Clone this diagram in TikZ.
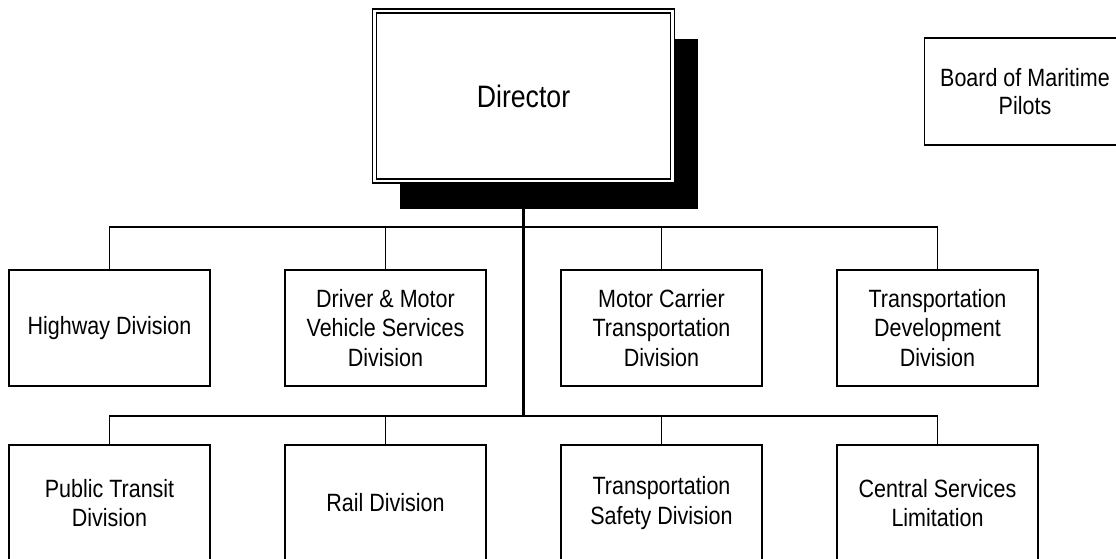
\documentclass[tikz,border=0pt]{standalone}
\usepackage{fontspec}
\setmainfont{Liberation Sans}[FakeStretch=0.86]
\usetikzlibrary{shadows}
\begin{document}
\begin{tikzpicture}[x=1pt,y=-1pt,
  unit/.style={draw=black,line width=1.5pt,fill=white,minimum width=201pt,minimum height=116pt,
    inner sep=0pt,align=center,font=\fontsize{25}{29.5}\selectfont},
  board/.style={unit,minimum height=107pt,font=\fontsize{25}{27.5}\selectfont},
  dirbox/.style={draw=black,double=white,double distance=2.5pt,line width=1.3pt,fill=white,
    minimum width=298pt,minimum height=170pt,inner sep=0pt,font=\fontsize{31}{36}\selectfont,
    drop shadow={shadow xshift=25pt,shadow yshift=-28pt,fill=black,opacity=1}},
  conn/.style={line width=1.3pt},
  trunk/.style={line width=2.5pt}]
\useasboundingbox (0,0) rectangle (1116,558);
\clip (0,0) rectangle (1116,558);

\coordinate (bus1) at (523.5,227);
\coordinate (bus2) at (523.5,416);

\node[dirbox] (dir) at (523.5,96) {Director};
\draw[trunk] (dir.south) -- (bus2);

\node[board] (bmp) at (1025,91.5) {Board of Maritime\\Pilots};

\node[unit] (hwy) at (109.5,328) {Highway Division};
\node[unit] (dmv) at (385.5,328) {Driver \& Motor\\Vehicle Services\\Division};
\node[unit] (mct) at (661.5,328) {Motor Carrier\\Transportation\\Division};
\node[unit] (tdd) at (937.5,328) {Transportation\\Development\\Division};

\node[unit] (ptd) at (109.5,503) {Public Transit\\Division};
\node[unit] (rail) at (385.5,503) {Rail Division};
\node[unit] (tsd) at (661.5,503) {Transportation\\Safety Division};
\node[unit] (csl) at (937.5,503) {Central Services\\Limitation};

\draw[conn] (hwy.north) -- (hwy.north |- bus1) -| (tdd.north);
\draw[conn] (dmv.north) -- (dmv.north |- bus1);
\draw[conn] (mct.north) -- (mct.north |- bus1);

\draw[conn] (ptd.north) -- (ptd.north |- bus2) -| (csl.north);
\draw[conn] (rail.north) -- (rail.north |- bus2);
\draw[conn] (tsd.north) -- (tsd.north |- bus2);
\end{tikzpicture}
\end{document}
